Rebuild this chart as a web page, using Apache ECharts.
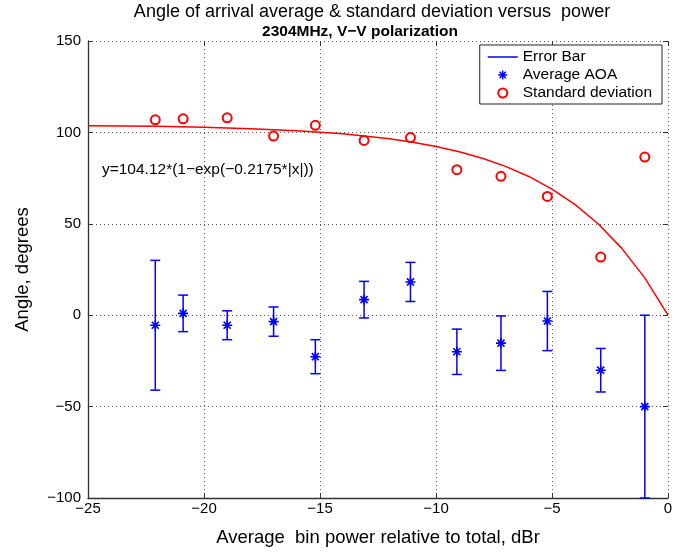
<!DOCTYPE html>
<html>
<head>
<meta charset="utf-8">
<title>Angle of arrival</title>
<script src="https://cdn.jsdelivr.net/npm/echarts@6/dist/echarts.min.js"></script>
<style>
  html, body { margin: 0; padding: 0; background: #fff; }
  #chart { width: 686px; height: 554px; }
</style>
</head>
<body>
<div id="chart"></div>
<script>
// power bins (dBr)
var binPower = [-22.1, -20.9, -19.0, -17.0, -15.2, -13.1, -11.1, -9.1, -7.2, -5.2, -2.9, -1.0];
// average AOA and its (symmetric) error bar half length, degrees
var aoaMean = [-5.5, 1.0, -5.5, -3.5, -22.7, 8.5, 18.2, -20.0, -15.3, -3.2, -30.1, -50.0];
var aoaErr = [35.5, 10.0, 7.9, 8.0, 9.3, 10.0, 10.7, 12.4, 14.9, 16.2, 11.9, 50.0];
// standard deviation, degrees
var stdDev = [106.9, 107.4, 108.0, 98.0, 103.9, 95.6, 97.2, 79.6, 76.0, 65.0, 31.8, 86.5];
// fitted curve
var fitX = [-25, -22, -20, -18, -16, -14, -12, -11, -10, -9, -8, -7, -6, -5, -4, -3, -2, -1, 0];
var fitY = [103.7, 103.3, 102.8, 102.0, 100.9, 99.2, 96.5, 94.6, 92.3, 89.4, 85.9, 81.4, 75.9, 69.0, 60.5, 49.9, 36.7, 20.4, 0];
var fitLabel = 'y=104.12*(1\u2212exp(\u22120.2175*|x|))';
var fitLabelAt = [-24.4, 79.5];

var FONT = '"Liberation Sans", Arial, Helvetica, sans-serif';
var BLUE = '#0000ff';
var RED = '#ff0000';

// MATLAB style '*' marker (plus + cross)
var ASTERISK = 'path://M-1.6,-10 L1.6,-10 L1.6,10 L-1.6,10 Z ' +
  'M-10,-1.6 L10,-1.6 L10,1.6 L-10,1.6 Z ' +
  'M-8.2,-5.9 L-5.9,-8.2 L8.2,5.9 L5.9,8.2 Z ' +
  'M-8.2,5.9 L5.9,-8.2 L8.2,-5.9 L-5.9,8.2 Z';

function minus(v) {
  return String(v).replace('-', '\u2212');
}

var errData = [], meanData = [], stdData = [], fitData = [];
for (var i = 0; i < binPower.length; i++) {
  errData.push([binPower[i], aoaMean[i] + aoaErr[i], aoaMean[i] - aoaErr[i]]);
  meanData.push([binPower[i], aoaMean[i]]);
  stdData.push([binPower[i], stdDev[i]]);
}
for (var j = 0; j < fitX.length; j++) {
  fitData.push([fitX[j], fitY[j]]);
}

function renderErrorBar(params, api) {
  var x = api.value(0);
  var hi = api.coord([x, api.value(1)]);
  var lo = api.coord([x, api.value(2)]);
  var half = 5;
  var style = { stroke: BLUE, lineWidth: 1.5 };
  return {
    type: 'group',
    children: [
      { type: 'line', shape: { x1: hi[0], y1: hi[1], x2: lo[0], y2: lo[1] }, style: style },
      { type: 'line', shape: { x1: hi[0] - half, y1: hi[1], x2: hi[0] + half, y2: hi[1] }, style: style },
      { type: 'line', shape: { x1: lo[0] - half, y1: lo[1], x2: lo[0] + half, y2: lo[1] }, style: style }
    ]
  };
}

var chart = echarts.init(document.getElementById('chart'));

var mainAxisLine = { show: true, onZero: false, lineStyle: { color: '#333', width: 1.3 } };
var inTick = { show: true, inside: true, length: 5, lineStyle: { color: '#333' } };
var dotted = { show: true, lineStyle: { color: '#555', type: [1, 3], width: 1 } };

option = {
  animation: false,
  backgroundColor: '#fff',
  textStyle: { fontFamily: FONT },
  title: [{
    text: 'Angle of arrival average & standard deviation versus  power',
    left: 372,
    top: 3,
    textAlign: 'center',
    padding: 0,
    textStyle: { fontFamily: FONT, fontSize: 18, fontWeight: 'normal', color: '#000' }
  }, {
    text: '2304MHz, V\u2212V polarization',
    left: 360,
    top: 24,
    textAlign: 'center',
    padding: 0,
    textStyle: { fontFamily: FONT, fontSize: 15.5, fontWeight: 'bold', color: '#000' }
  }],
  legend: {
    orient: 'vertical',
    right: 24,
    top: 45,
    padding: [4, 10, 3, 8],
    itemWidth: 30,
    itemHeight: 9,
    itemGap: 2,
    borderColor: '#222',
    borderWidth: 1,
    backgroundColor: '#fff',
    textStyle: { fontFamily: FONT, fontSize: 15.5, color: '#000' },
    data: [
      { name: 'Error Bar', icon: 'path://M0,0 L30,0 L30,1.5 L0,1.5 Z' },
      { name: 'Average AOA', icon: ASTERISK },
      { name: 'Standard deviation', icon: 'emptyCircle' }
    ]
  },
  grid: { left: 88, right: 18, top: 41, bottom: 56 },
  xAxis: [{
    type: 'value',
    min: -25,
    max: 0,
    interval: 5,
    name: 'Average  bin power relative to total, dBr',
    nameLocation: 'middle',
    nameGap: 30,
    nameTextStyle: { fontFamily: FONT, fontSize: 18.5, color: '#000' },
    axisLine: mainAxisLine,
    axisTick: inTick,
    axisLabel: { color: '#000', fontSize: 15, margin: 3, formatter: minus },
    splitLine: dotted
  }, {
    type: 'value',
    position: 'top',
    min: -25,
    max: 0,
    interval: 5,
    axisLine: { show: false, onZero: false },
    axisTick: inTick,
    axisLabel: { show: false },
    splitLine: { show: false }
  }],
  yAxis: [{
    type: 'value',
    min: -100,
    max: 150,
    interval: 50,
    name: 'Angle, degrees',
    nameLocation: 'middle',
    nameGap: 56,
    nameTextStyle: { fontFamily: FONT, fontSize: 18.5, color: '#000' },
    axisLine: mainAxisLine,
    axisTick: inTick,
    axisLabel: { color: '#000', fontSize: 15, margin: 7, formatter: minus },
    splitLine: dotted
  }, {
    type: 'value',
    position: 'right',
    min: -100,
    max: 150,
    interval: 50,
    axisLine: { show: false, onZero: false },
    axisTick: inTick,
    axisLabel: { show: false },
    splitLine: { show: false }
  }],
  series: [{
    name: 'fit',
    type: 'line',
    data: fitData,
    showSymbol: false,
    symbol: 'none',
    lineStyle: { color: RED, width: 1.5 },
    itemStyle: { color: RED },
    z: 2
  }, {
    name: 'Error Bar',
    type: 'custom',
    renderItem: renderErrorBar,
    data: errData,
    clip: false,
    itemStyle: { color: BLUE },
    encode: { x: 0, y: [1, 2] },
    z: 3
  }, {
    name: 'Average AOA',
    type: 'scatter',
    data: meanData,
    symbol: ASTERISK,
    symbolSize: 10,
    itemStyle: { color: BLUE, opacity: 1 },
    z: 4
  }, {
    name: 'Standard deviation',
    type: 'scatter',
    data: stdData,
    symbol: 'emptyCircle',
    symbolSize: 9,
    itemStyle: { color: RED, borderColor: RED, borderWidth: 1.2, opacity: 1 },
    z: 4
  }]
};

chart.setOption(option);

// equation text placed at data coordinates
var eqPos = chart.convertToPixel({ gridIndex: 0 }, fitLabelAt);
chart.setOption({
  graphic: [{
    type: 'text',
    x: eqPos[0],
    y: eqPos[1],
    style: {
      text: fitLabel,
      fontFamily: FONT,
      fontSize: 15.5,
      fill: '#000',
      verticalAlign: 'middle'
    }
  }]
});
</script>
</body>
</html>
